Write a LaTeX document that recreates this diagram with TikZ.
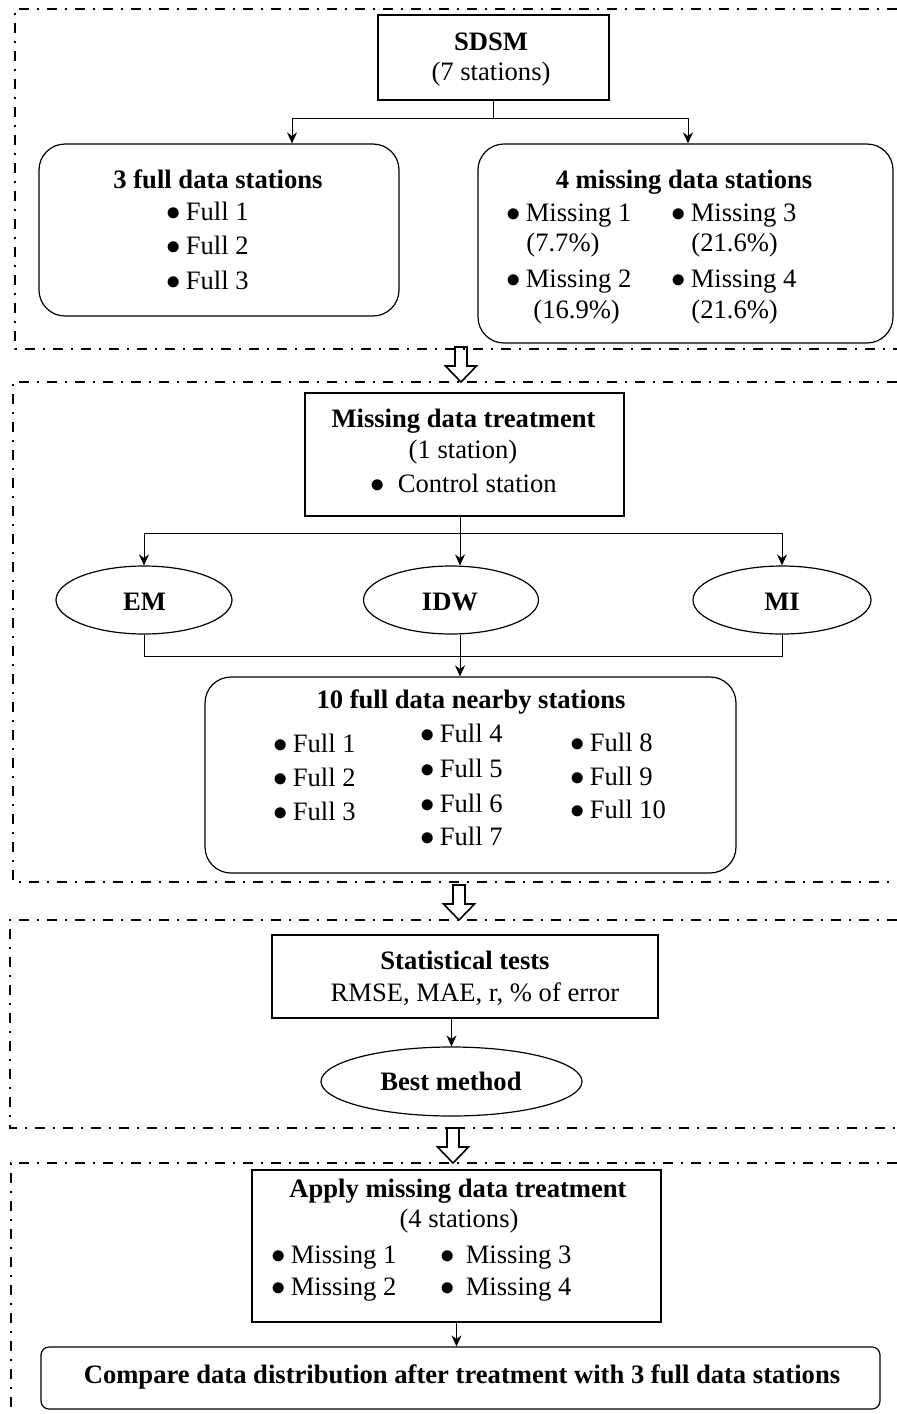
\documentclass[tikz,border=0pt]{standalone}
\usepackage{fontspec}
\setmainfont{Liberation Serif}
\usetikzlibrary{arrows.meta,shapes.geometric}
\newcommand\bul[1][2.5pt]{$\bullet$\hspace{#1}}
\begin{document}
\begin{tikzpicture}[x=0.5pt,y=-0.5pt,
  font=\fontsize{13.3}{16}\selectfont,
  frame/.style={line width=1.1pt, dash pattern=on 5pt off 4pt on 1pt off 4pt},
  sqbox/.style={draw, line width=0.6pt, inner sep=0pt},
  rbox/.style={draw, line width=0.6pt, rounded corners=13pt, inner sep=0pt},
  ell/.style={draw, ellipse, line width=0.6pt, inner sep=0pt},
  txt/.style={inner sep=0pt, anchor=base},
  ltxt/.style={inner sep=0pt, anchor=base west},
  conn/.style={line width=0.5pt},
  arr/.style={line width=0.5pt, -{Stealth[length=5.5pt,width=5pt]}},
  blockarrow/.style={draw, line width=0.8pt, line join=miter},
]
\useasboundingbox (0,0) rectangle (897,1414);

% ---------- section frames ----------
\draw[frame] (897,9) -- (15,9) -- (15,349) -- (897,349);
\draw[frame] (897,382) -- (13,382) -- (13,882) -- (897,882);
\draw[frame] (897,920) -- (10,920) -- (10,1128) -- (897,1128);
\draw[frame] (897,1163) -- (11,1163) -- (11,1414);

% ---------- block arrows between sections ----------
\coordinate (ba1) at (461,347);
\coordinate (ba2) at (459,885);
\coordinate (ba3) at (453,1128);
\foreach \c in {ba1,ba2,ba3}{
  \draw[blockarrow] (\c) ++(-6,0) -- ++(12,0) -- ++(0,19) -- ++(9.5,0)
     -- ++(-15.5,16) -- ++(-15.5,-16) -- ++(9.5,0) -- cycle;
}

% ---------- section 1 ----------
\node[sqbox, minimum width=115.5pt, minimum height=42.5pt] (sdsm) at (493.5,57.5) {};
\node[txt] (sdsmT) at (491,50) {\textbf{SDSM}};
\node[txt] (sdsmS) at (491,80) {(7 stations)};

\node[rbox, minimum width=180pt, minimum height=86pt] (full3) at (219,230) {};
\node[txt] (full3T) at (218,188) {\textbf{3 full data stations}};
\node[ltxt] (f1) at (166,220) {\bul Full 1};
\node[ltxt] (f2) at (166,254) {\bul Full 2};
\node[ltxt] (f3) at (166,289) {\bul Full 3};

\node[rbox, minimum width=207.5pt, minimum height=99.5pt] (miss4) at (685.5,243.5) {};
\node[txt] (miss4T) at (684,188) {\textbf{4 missing data stations}};
\node[ltxt] (m1) at (506,221) {\bul Missing 1};
\node[ltxt] (m1p) at (526,251) {(7.7\%)};
\node[ltxt] (m2) at (506,287) {\bul Missing 2};
\node[ltxt] (m2p) at (533,318) {(16.9\%)};
\node[ltxt] (m3) at (671,221) {\bul Missing 3};
\node[ltxt] (m3p) at (691,251) {(21.6\%)};
\node[ltxt] (m4) at (671,287) {\bul Missing 4};
\node[ltxt] (m4p) at (691,318) {(21.6\%)};

\coordinate (br1) at (490,118);
\coordinate (a1) at (292,0);
\coordinate (a2) at (688,0);
\draw[conn] (sdsm.south) -- (sdsm.south |- br1);
\draw[arr] (sdsm.south |- br1) -| (a1 |- full3.north);
\draw[arr] (sdsm.south |- br1) -| (a2 |- miss4.north);

% ---------- section 2 ----------
\node[sqbox, minimum width=159.5pt, minimum height=61.5pt] (mdt) at (464.5,454.5) {};
\node[txt] (mdtT) at (463.5,427) {\textbf{Missing data treatment}};
\node[txt] (mdtS) at (463,458) {(1 station)};
\node[ltxt] (mdtC) at (370,492) {\bul[6.5pt]Control station};

\node[ell, minimum width=88pt, minimum height=34pt] (em) at (144,600) {};
\node[ell, minimum width=87.5pt, minimum height=34pt] (idw) at (451,600) {};
\node[ell, minimum width=89pt, minimum height=34pt] (mi) at (782,600) {};
\node[txt] (emT) at (144.5,610) {\textbf{EM}};
\node[txt] (idwT) at (450,610) {\textbf{IDW}};
\node[txt] (miT) at (782,610) {\textbf{MI}};

\coordinate (br2) at (460,533);
\draw[conn] (mdt.south -| br2) -- (br2);
\draw[conn] (br2 -| em.north) -- (br2 -| mi.north);
\draw[arr] (br2) -- (idw.north -| br2);
\draw[arr] (br2 -| em.north) -- (em.north);
\draw[arr] (br2 -| mi.north) -- (mi.north);

\node[rbox, minimum width=265.5pt, minimum height=98pt] (nearby) at (470.5,775) {};
\node[txt] (nearbyT) at (471,708) {\textbf{10 full data nearby stations}};
\node[ltxt] (n1) at (273,752) {\bul Full 1};
\node[ltxt] (n2) at (273,786) {\bul Full 2};
\node[ltxt] (n3) at (273,820) {\bul Full 3};
\node[ltxt] (n4) at (420,742) {\bul Full 4};
\node[ltxt] (n5) at (420,777) {\bul Full 5};
\node[ltxt] (n6) at (420,812) {\bul Full 6};
\node[ltxt] (n7) at (420,845) {\bul Full 7};
\node[ltxt] (n8) at (570,751) {\bul Full 8};
\node[ltxt] (n9) at (570,785) {\bul Full 9};
\node[ltxt] (n10) at (570,818) {\bul Full 10};

\coordinate (mg) at (460,656);
\draw[conn] (em.south) -- (em.south |- mg) -- (mi.south |- mg) -- (mi.south);
\draw[arr] (idw.south -| mg) -- (nearby.north -| mg);

% ---------- section 3 ----------
\node[sqbox, minimum width=193pt, minimum height=41.5pt] (stat) at (465,976.5) {};
\node[txt] (statT) at (465,969) {\textbf{Statistical tests}};
\node[txt] (statS) at (475,1001) {RMSE, MAE, r, \% of error};
\node[ell, minimum width=130.5pt, minimum height=34.5pt] (best) at (451.5,1081.5) {};
\node[txt] (bestT) at (451,1090) {\textbf{Best method}};
\draw[arr] (stat.south -| best.north) -- (best.north);

% ---------- section 4 ----------
\node[sqbox, minimum width=204.5pt, minimum height=76pt] (apply) at (456.5,1246) {};
\node[txt] (applyT) at (458,1197) {\textbf{Apply missing data treatment}};
\node[txt] (applyS) at (459,1227) {(4 stations)};
\node[ltxt] (p1) at (271,1263) {\bul Missing 1};
\node[ltxt] (p2) at (271,1295) {\bul Missing 2};
\node[ltxt] (p3) at (440,1263) {\bul[5.5pt]Missing 3};
\node[ltxt] (p4) at (440,1295) {\bul[5.5pt]Missing 4};

\node[rbox, rounded corners=4pt, minimum width=419.5pt, minimum height=31pt] (cmp) at (460.5,1378) {};
\node[txt] (cmpT) at (462,1383) {\textbf{Compare data distribution after treatment with 3 full data stations}};
\draw[arr] (apply.south) -- (apply.south |- cmp.north);
\end{tikzpicture}
\end{document}
